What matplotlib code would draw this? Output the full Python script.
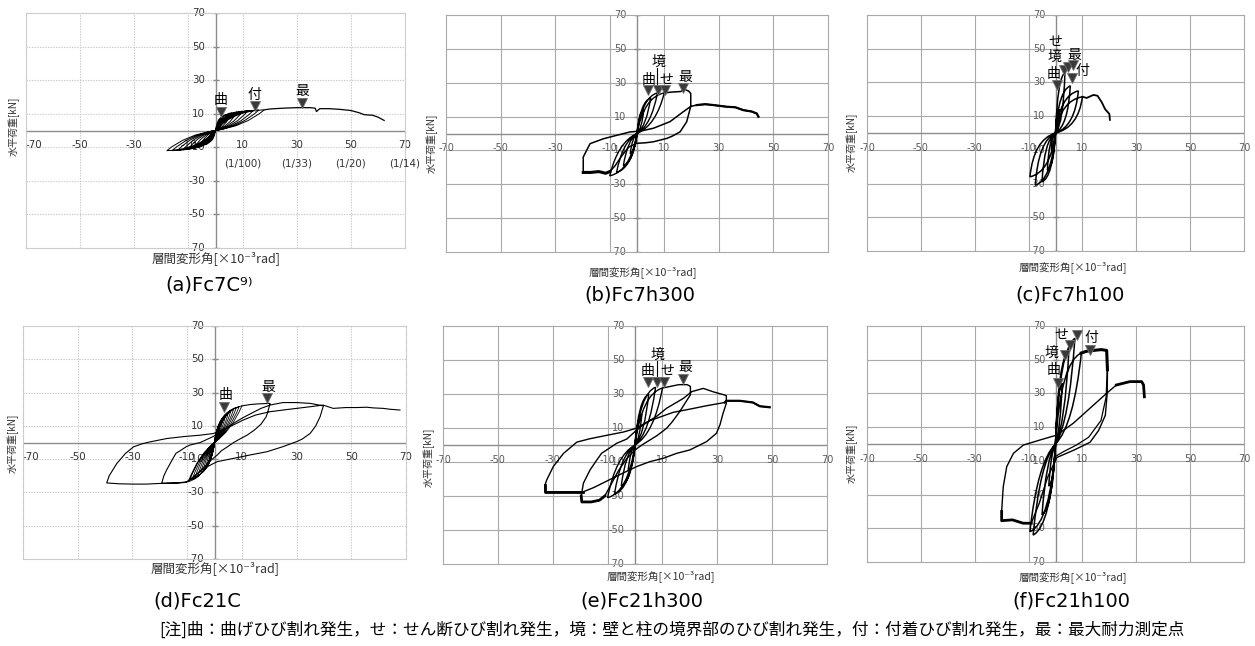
import matplotlib
matplotlib.use('Agg')
import matplotlib.pyplot as plt
from matplotlib.path import Path
from matplotlib.patches import PathPatch

plt.rcParams['font.family'] = ['Noto Sans CJK JP', 'DejaVu Sans']

W, H = 1255, 646

ticks = [-70, -50, -30, -10, 10, 30, 50, 70]
drift_pos = [10, 30, 50, 70]
drift_labels = ['(1/100)', '(1/33)', '(1/20)', '(1/14)']
captions = ['(a)Fc7C⁹⁾', '(b)Fc7h300', '(c)Fc7h100', '(d)Fc21C', '(e)Fc21h300', '(f)Fc21h100']
ylab = '水平荷重[kN]'
xlab = '層間変形角[×10⁻³rad]'
note = '[注]曲：曲げひび割れ発生，せ：せん断ひび割れ発生，境：壁と柱の境界部のひび割れ発生，付：付着ひび割れ発生，最：最大耐力測定点'

# (a) Fc7C  -- small cycles (peaks) + monotonic tail
a_pos_x = [2, 4, 6, 8, 10, 12, 14, 16, 18]
a_pos_y = [7.5, 9.5, 10.5, 11, 11.5, 11.8, 12, 12.2, 12.3]
a_neg_x = [-2, -4, -6, -8, -10, -12, -14, -16, -18]
a_neg_y = [-6.5, -8.5, -9.5, -10.5, -11, -11.5, -11.8, -12, -12]
a_path_x = [18, 20, 25, 30, 35, 36.8, 37.3, 38.5, 42, 46, 50, 53, 55, 58, 60, 62.3]
a_path_y = [12.3, 12.8, 13.3, 13.6, 13.6, 13.3, 11.3, 13, 13, 12.6, 11.9, 10.6, 9.4, 9.1, 8, 6]
a_mark_x = [2, 14.5, 31.8]
a_mark_y = [11.2, 14.3, 16.2]
a_lbl = ['曲', '付', '最']
a_lbl_x = [2, 14.5, 32]
a_lbl_y = [18.2, 21.4, 23.8]

# (b) Fc7h300
b_pos_x = [2.5, 5, 7.5, 10]
b_pos_y = [14, 21, 24, 24]
b_neg_x = [-2.5, -5, -7.5, -10]
b_neg_y = [-12, -19, -23, -25]
b_path_x = [10, 13, 16, 17.5, 19, 19.7, 19.7, 18.2, 15.8, 13, 10.9, 6, 3, -0.1, -3, -5.5, -8, -10,
            -11.5, -14, -17, -19.7, -19.7, -17.2, -12.3, -7.5, -2.6, 1.5, 6, 12.1, 17, 19.7, 21.9,
            25, 28, 32.9, 36, 39, 42, 43.9, 44.5]
b_path_y = [24, 24.5, 24.8, 26, 25, 23.6, 16, 6.9, 1, -1.5, -2.9, -4.9, -5.5, -5.8, -8, -13, -19,
            -22.5, -23.5, -22.5, -23, -23, -13.9, -6, -3.1, -1.1, 0.9, 1.5, 3.1, 7, 12.9, 16, 16.8,
            17.3, 16.8, 15.8, 15.5, 13.8, 13, 11.8, 9.9]
b_mark_x = [4.2, 7.6, 10.3, 17]
b_mark_y = [25.7, 25.7, 25.7, 26.7]
b_lbl = ['曲', '境', 'せ', '最']
b_lbl_x = [4.3, 7.9, 10.8, 17.6]
b_lbl_y = [31.6, 42, 31.6, 33.2]

# (c) Fc7h100
c_pos_x = [1.5, 3.5, 5.5, 8.5, 10]
c_pos_y = [14, 36, 28, 25, 21.5]
c_neg_x = [-1.5, -3, -5, -7.5, -9.5]
c_neg_y = [-10, -22, -29, -31, -26]
c_path_x = [10, 11.6, 14.1, 15.6, 17.2, 18.4, 20, 20.2]
c_path_y = [21.5, 20.8, 22.6, 22.1, 18.2, 14.2, 11.3, 7.8]
c_mark_x = [0.4, 3.3, 4.7, 6.6, 6.0]
c_mark_y = [28.5, 37.4, 39.4, 40.5, 32.4]
c_lbl = ['曲', '境', 'せ', '最', '付']
c_lbl_x = [-0.8, -0.2, -0.2, 7.0, 10.0]
c_lbl_y = [35, 44.9, 54.2, 46.2, 37]

# (d) Fc21C
d_pos_x = [1, 2, 3, 4, 5, 6, 7, 8, 9, 10]
d_pos_y = [6, 10, 13.5, 16, 17.5, 19, 20, 21, 21.5, 22]
d_neg_x = [-1, -2, -3, -4, -5, -6, -7, -8, -9, -9.6]
d_neg_y = [-6, -10, -13.5, -16, -18, -19.5, -20.5, -21.5, -22.5, -23.5]
d_path_x = [10, 13, 16, 20.3, 19.6, 18.9, 17, 14.6, 12, 9.7, 7, 4.8, 2.5, 1, -1.5, -4, -7, -9.6,
            -13, -16, -19.3, -18.5, -17.5, -16.2, -14.1, -12.6, -10.3, -8.9, -5.2, -0.6, 3, 6.9,
            10.5, 14, 17, 20.3, 25, 30, 35, 39.8, 38.6, 37, 35, 32, 30, 25, 19.3, 13, 7.1, 1, -2,
            -5, -8, -10.5, -15, -20, -25, -30, -35, -39.4, -38.5, -35.7, -32.5, -29.6, -26.5,
            -23.5, -17.4, -11, -5.2, -0.4, 5, 10.5, 15, 20.3, 25, 30, 35, 39.7, 43.4, 48, 52,
            55.6, 58, 61.7, 64, 67.8]
d_path_y = [22, 22.8, 23.2, 23.5, 19, 15.5, 11, 7.5, 4.5, 2.5, 0, -2.5, -5, -7.5, -11, -15, -20,
            -23.5, -24.2, -24.3, -24.5, -20, -16.5, -12.6, -6.5, -5, -2.5, -1.5, 0, 3.5, 7, 11.5,
            15, 18, 20.5, 22.5, 24, 24, 23.5, 22, 15.5, 10, 5.5, 2, 0.5, -2.5, -5.5, -7.5, -9.5,
            -11.5, -14, -17, -21, -24, -24.5, -24.6, -25, -25, -24.8, -24.3, -20, -12.6, -6.5,
            -2.6, -0.8, 0.4, 2.4, 3.6, 4.4, 5.4, 9, 13.5, 16.5, 18.5, 19.5, 20.5, 21.5, 22.5,
            20.5, 21, 21, 21.2, 20.8, 20.5, 20, 19.5]
d_mark_x = [3.5, 19.1]
d_mark_y = [21.5, 26.9]
d_lbl = ['曲', '最']
d_lbl_x = [4.1, 19.7]
d_lbl_y = [28.5, 33.5]

# (e) Fc21h300
e_pos_x = [2.5, 5, 7.5, 10]
e_pos_y = [18, 30, 34, 33.5]
e_neg_x = [-2.5, -5, -7.5, -10]
e_neg_y = [-15, -24, -29, -31]
e_path_x = [10, 13, 16, 19, 20.2, 20.2, 18.8, 16.3, 13.5, 11.5, 8, 5.4, 2.5, 0, -3, -6, -9, -11,
            -13, -16, -19.4, -19.6, -18.8, -16.4, -14, -12.2, -9, -6.7, -3, 0.6, 4, 8, 11.5, 17.7,
            20.7, 24.9, 28.5, 32.7, 33.3, 33.3, 32.1, 31, 29.7, 26.1, 20, 15.2, 10.3, 5.4, 0.6,
            -5, -10, -15, -18.8, -25, -32.8, -32.8, -32.2, -29.8, -26.1, -21.2, -16.4, -10.3,
            -4.3, 0, 5.4, 13.9, 20, 26.1, 32.7, 33.3, 38.2, 43, 45.5, 49.1]
e_path_y = [33.5, 34.5, 35.5, 35.5, 34.5, 29.5, 26, 19.6, 13.5, 9.8, 5.5, 2.9, 0, -2.9, -8, -15,
            -24, -30, -32.5, -33.5, -33.5, -30, -22.4, -14.7, -9, -4.9, -1.5, 1, 3.5, 8.8, 13, 17,
            21.6, 27.5, 31.4, 33.3, 31.3, 29.4, 29, 24.5, 18.6, 12, 6.9, 2, -2.9, -4.9, -7.8,
            -9.8, -12.7, -17, -21, -25, -27.5, -27.5, -27.5, -23.5, -20.6, -12.7, -5, 1.7, 3.7,
            5.7, 7.6, 9.6, 14.3, 19.2, 21.1, 23.1, 25, 26, 26, 25, 22.8, 22.2]
e_mark_x = [4.6, 7.9, 10.7, 17.6]
e_mark_y = [37.3, 37.3, 37.3, 38.6]
e_lbl = ['曲', '境', 'せ', '最']
e_lbl_x = [4.6, 8.2, 11.8, 18.2]
e_lbl_y = [43.7, 52.9, 43.7, 45.9]

# (f) Fc21h100
f_pos_x = [2.5, 5, 7.2, 9.6]
f_pos_y = [36, 56, 62.7, 54]
f_neg_x = [-2.5, -5, -8.3, -9.5]
f_neg_y = [-25, -42, -54, -52]
f_path_x = [9.6, 11.5, 14, 17, 19, 19.3, 19.2, 18.5, 16, 12.8, 7, 0.5, -3, -6, -9, -12, -16, -20,
            -20, -19.4, -18.1, -15.6, -11.9, -5.7, 0.5, 6.6, 12.8, 19, 22.6, 27.6, 32, 32.7, 33]
f_path_y = [54, 55, 55.5, 56, 55.5, 44, 30, 17, 8, 1, -3.5, -8, -20, -35, -47, -47, -45, -45.5,
            -40, -25.3, -13.4, -5.5, -0.6, 2.4, 5.3, 12.3, 21.2, 30.1, 35, 37, 37, 35, 28]
f_unload_x = [19.2, 18.8, 16.9, 12.3, 7.8, 2.9, -0.2]
f_unload_y = [44, 27.9, 14, 4, -0.6, -4.6, -7.5]
f_mark_x = [1.0, 3.5, 5.4, 8.1, 12.8]
f_mark_y = [36, 52.8, 58.7, 64.6, 55.8]
f_lbl = ['曲', '境', 'せ', '付']
f_lbl_x = [-0.8, -1.4, 2.3, 13.4]
f_lbl_y = [43.9, 53.8, 64.6, 62.7]

fig = plt.figure(figsize=(W / 100, H / 100), dpi=100)


def px_axes(l, t, r, b):
    return fig.add_axes([l / W, 1 - b / H, (r - l) / W, (b - t) / H])


def frame(ax, dotted, small):
    ax.set_xlim(-70, 70)
    ax.set_ylim(-70, 70)
    ax.set_xticks([])
    ax.set_yticks([])
    col = '#c8c8c8' if dotted else '#a9a9a9'
    ls = (0, (1.2, 1.2)) if dotted else '-'
    for v in ticks[1:-1]:
        ax.axvline(v, color=col, lw=0.8, ls=ls, zorder=0)
        ax.axhline(v, color=col, lw=0.8, ls=ls, zorder=0)
    for s in ax.spines.values():
        s.set_color(col)
        s.set_linestyle(ls)
        s.set_linewidth(0.8)
    ax.axhline(0, color='#8c8c8c', lw=1.0, zorder=1)
    ax.axvline(0, color='#8c8c8c', lw=1.0, zorder=1)
    ax.plot([0] * len(ticks), ticks, ls='none', marker='_', ms=5, color='#8c8c8c', zorder=1)
    fs = 7.0 if small else 7.4
    tc = '#5a5a5a' if small else '#333333'
    for v in ticks:
        ha, dx = 'center', 0
        if v == -70 and dotted:
            ha, dx = 'left', -0.5
        ax.annotate(str(v), (v, 0), xytext=(dx, -10.5), textcoords='offset points',
                    ha=ha, va='center', fontsize=fs, color=tc, family='DejaVu Sans',
                    annotation_clip=False, zorder=2)
        ax.annotate(str(v), (0, v), xytext=(-7.5, 0), textcoords='offset points',
                    ha='right', va='center', fontsize=fs, color=tc, family='DejaVu Sans',
                    annotation_clip=False, zorder=2)


def loops(ax, px, py, nx, ny, load, unload, lw):
    verts, codes = [], []
    for xp, yp, xn, yn in zip(px, py, nx, ny):
        for x, y in ((xp, yp), (xn, yn)):
            verts += [(0, 0), (x * load[0], y * load[1]), (x, y),
                      (x * unload[0], y * unload[1]), (0, 0)]
            codes += [Path.MOVETO, Path.CURVE3, Path.CURVE3, Path.CURVE3, Path.CURVE3]
    ax.add_patch(PathPatch(Path(verts, codes), fill=False, lw=lw, ec='black', zorder=3))


def marks(ax, mx, my, lbl, lx, ly, size):
    ax.plot(mx, my, ls='none', marker='v', ms=size, color='#3a3a3a', mec='#707070',
            mew=0.6, zorder=4)
    for t, x, y in zip(lbl, lx, ly):
        ax.text(x, y, t, ha='center', va='center', fontsize=10, color='black', zorder=5)


panels = [
    ((26, 13, 405, 248), True, False, (14, 126), (216, 258), (209, 285)),
    ((446, 15, 828, 252), False, True, (432, 143), (643, 272), (640, 295)),
    ((867, 15, 1244, 251), False, True, (852, 142), (1073, 267), (1070, 295)),
    ((23, 326, 406, 559), True, False, (13, 443), (215, 568), (197, 601)),
    ((443, 326, 827, 564), False, True, (429, 457), (661, 576), (642, 601)),
    ((867, 326, 1244, 562), False, True, (852, 453), (1073, 577), (1071, 601)),
]

axes = []
for i, (box, dotted, small, yl, xl, cp) in enumerate(panels):
    ax = px_axes(*box)
    frame(ax, dotted, small)
    axes.append(ax)
    fig.text(yl[0] / W, 1 - yl[1] / H, ylab, rotation=90, ha='center', va='center',
             fontsize=7.2, color='#333333')
    fig.text(xl[0] / W, 1 - xl[1] / H, xlab, ha='center', va='center',
             fontsize=7.6 if small else 9.0, color='#333333')
    fig.text(cp[0] / W, 1 - cp[1] / H, captions[i], ha='center', va='center', fontsize=14,
             family='DejaVu Sans')

ax_a, ax_b, ax_c, ax_d, ax_e, ax_f = axes

# (a)
loops(ax_a, a_pos_x, a_pos_y, a_neg_x, a_neg_y, (0.35, 0.95), (0.6, 0.2), 0.7)
ax_a.plot(a_path_x, a_path_y, color='black', lw=0.9, zorder=3)
for x, t in zip(drift_pos, drift_labels):
    ax_a.annotate(t, (x, 0), xytext=(0, -23.5), textcoords='offset points', ha='center',
                  va='center', fontsize=7.4, color='#333333', family='DejaVu Sans',
                  annotation_clip=False)
marks(ax_a, a_mark_x, a_mark_y, a_lbl, a_lbl_x, a_lbl_y, 7.5)

# (b)
loops(ax_b, b_pos_x, b_pos_y, b_neg_x, b_neg_y, (0.25, 0.9), (0.7, 0.2), 1.0)
ax_b.plot(b_path_x, b_path_y, color='black', lw=1.1, zorder=3)
ax_b.plot(b_path_x[17:22], b_path_y[17:22], color='black', lw=2.2, zorder=3)
ax_b.plot(b_path_x[32:], b_path_y[32:], color='black', lw=1.6, zorder=3)
ax_b.plot([7.4, 7.4], [28.1, 38.9], color='black', lw=0.8, zorder=4)
marks(ax_b, b_mark_x, b_mark_y, b_lbl, b_lbl_x, b_lbl_y, 7.5)

# (c)
loops(ax_c, c_pos_x, c_pos_y, c_neg_x, c_neg_y, (0.2, 0.9), (0.85, 0.15), 1.1)
ax_c.plot(c_path_x, c_path_y, color='black', lw=1.3, zorder=3)
marks(ax_c, c_mark_x, c_mark_y, c_lbl, c_lbl_x, c_lbl_y, 7.5)

# (d)
loops(ax_d, d_pos_x, d_pos_y, d_neg_x, d_neg_y, (0.3, 0.9), (0.6, 0.3), 0.6)
ax_d.plot(d_path_x, d_path_y, color='black', lw=0.8, zorder=3)
marks(ax_d, d_mark_x, d_mark_y, d_lbl, d_lbl_x, d_lbl_y, 7.5)

# (e)
loops(ax_e, e_pos_x, e_pos_y, e_neg_x, e_neg_y, (0.25, 0.9), (0.7, 0.2), 1.0)
ax_e.plot(e_path_x, e_path_y, color='black', lw=1.0, zorder=3)
ax_e.plot(e_path_x[17:22], e_path_y[17:22], color='black', lw=2.0, zorder=3)
ax_e.plot(e_path_x[52:56], e_path_y[52:56], color='black', lw=2.0, zorder=3)
ax_e.plot(e_path_x[68:], e_path_y[68:], color='black', lw=1.6, zorder=3)
ax_e.plot([7.9, 7.9], [39.5, 49.5], color='black', lw=0.8, zorder=4)
marks(ax_e, e_mark_x, e_mark_y, e_lbl, e_lbl_x, e_lbl_y, 7.5)

# (f)
loops(ax_f, f_pos_x, f_pos_y, f_neg_x, f_neg_y, (0.2, 0.9), (0.7, 0.2), 1.1)
ax_f.plot(f_path_x, f_path_y, color='black', lw=1.0, zorder=3)
ax_f.plot(f_path_x[:6], f_path_y[:6], color='black', lw=2.2, zorder=3)
ax_f.plot(f_path_x[14:19], f_path_y[14:19], color='black', lw=2.0, zorder=3)
ax_f.plot(f_path_x[28:], f_path_y[28:], color='black', lw=2.0, zorder=3)
ax_f.plot(f_unload_x, f_unload_y, color='black', lw=0.9, zorder=3)
marks(ax_f, f_mark_x, f_mark_y, f_lbl, f_lbl_x, f_lbl_y, 7.5)

fig.text(672 / W, 1 - 630 / H, note, ha='center', va='center', fontsize=12)

fig.savefig('out.png', dpi=100)
